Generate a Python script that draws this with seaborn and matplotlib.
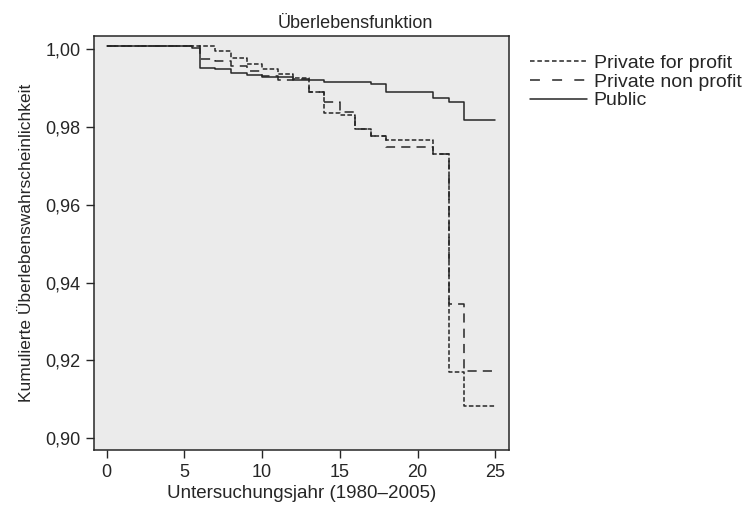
import numpy as np
import pandas as pd
import matplotlib
matplotlib.use("Agg")
import matplotlib.pyplot as plt
from matplotlib.ticker import FuncFormatter
from matplotlib.lines import Line2D
import seaborn as sns

# ========== DATA ==========
groups = ["Private for profit", "Private non profit", "Public"]

forprofit_years = [0, 7, 8, 9, 10, 11, 12, 13, 14, 15, 16, 17, 18, 21, 22, 23, 25]
forprofit_surv = [1.0007, 0.9994, 0.9977, 0.9962, 0.9949, 0.9936, 0.9925, 0.9889,
                  0.9836, 0.9829, 0.9794, 0.9775, 0.9767, 0.9731, 0.9169, 0.9083, 0.9083]

nonprofit_years = [0, 6, 7, 8, 9, 10, 11, 12, 13, 14, 15, 16, 17, 18, 21, 22, 23, 25]
nonprofit_surv = [1.0007, 0.9973, 0.9968, 0.9955, 0.9942, 0.9930, 0.9919, 0.9922, 0.9890,
                  0.9863, 0.9838, 0.9794, 0.9775, 0.9748, 0.9731, 0.9345, 0.9174, 0.9174]

public_years = [0, 5.5, 6, 7, 8, 9, 10, 12, 14, 17, 18, 21, 22, 23, 25]
public_surv = [1.0007, 1.0002, 0.9951, 0.9947, 0.9938, 0.9932, 0.9927, 0.9921, 0.9914,
               0.9910, 0.9888, 0.9874, 0.9864, 0.9817, 0.9817]

y_ticks = [0.90, 0.92, 0.94, 0.96, 0.98, 1.00]
x_ticks = [0, 5, 10, 15, 20, 25]

# ========== BUILD TABLE ==========
frames = []
for name, yrs, surv in zip(groups,
                           [forprofit_years, nonprofit_years, public_years],
                           [forprofit_surv, nonprofit_surv, public_surv]):
    frames.append(pd.DataFrame({"Jahr": yrs, "Surv": surv, "Gruppe": name}))
df = pd.concat(frames, ignore_index=True)

# ========== STYLE ==========
sns.set_theme(style="white")
plt.rcParams["font.family"] = ["Liberation Sans", "DejaVu Sans"]
ink = "#262626"
plt.rcParams["text.color"] = ink
plt.rcParams["axes.labelcolor"] = ink
plt.rcParams["xtick.color"] = ink
plt.rcParams["ytick.color"] = ink

dash_map = {
    "Private for profit": (3, 1.5),
    "Private non profit": (6, 4),
    "Public": "",
}

fig = plt.figure(figsize=(7.45, 5.15), dpi=100)
ax = fig.add_axes([0.1266, 0.1262, 0.557, 0.804])
ax.set_facecolor("#ebebeb")

sns.lineplot(data=df, x="Jahr", y="Surv", hue="Gruppe", style="Gruppe",
             dashes=dash_map, palette=[ink, ink, ink], linewidth=1.1,
             drawstyle="steps-post", estimator=None, sort=False,
             legend=False, ax=ax)

ax.set_xlim(-0.79, 25.9)
ax.set_ylim(0.897, 1.0033)
ax.set_xticks(x_ticks)
ax.set_yticks(y_ticks)
ax.yaxis.set_major_formatter(FuncFormatter(lambda v, p: f"{v:.2f}".replace(".", ",")))
ax.tick_params(axis="both", which="both", direction="out", length=6, width=1,
               labelsize=13, left=True, bottom=True, pad=4)

for s in ax.spines.values():
    s.set_visible(True)
    s.set_color(ink)
    s.set_linewidth(1.1)

ax.set_xlabel("Untersuchungsjahr (1980–2005)", fontsize=13.5, labelpad=3)
ax.set_ylabel("Kumulierte Überlebenswahrscheinlichkeit", fontsize=12.5, labelpad=8)
fig.text(355 / 745, 1 - 28 / 515, "Überlebensfunktion", fontsize=13,
         ha="center", va="baseline")

handles = [
    Line2D([], [], color=ink, lw=1.1, dashes=(3, 1.8)),
    Line2D([], [], color=ink, lw=1.1, dashes=(6.5, 8)),
    Line2D([], [], color=ink, lw=1.1),
]
ax.legend(handles, groups, loc="upper left", bbox_to_anchor=(1.051, 0.955),
          frameon=False, fontsize=14, handlelength=2.9, handletextpad=0.36,
          labelspacing=0.05, borderpad=0, borderaxespad=0)

fig.savefig("out.png", dpi=100)
